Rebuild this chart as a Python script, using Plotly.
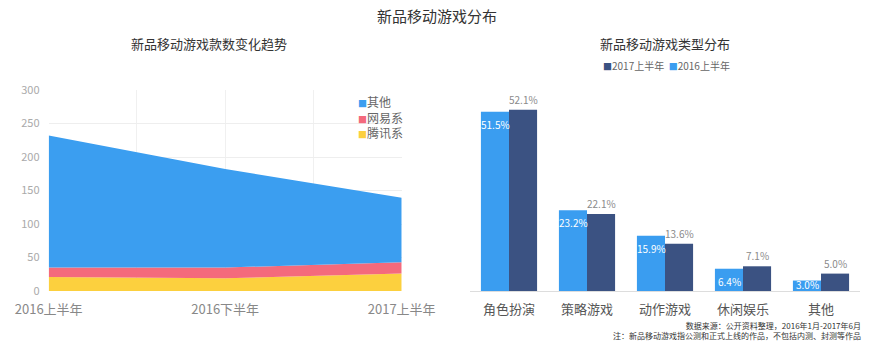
import plotly.graph_objects as go

FONT = "Noto Sans CJK SC"

# ---- left chart data ----
periods = ["2016上半年", "2016下半年", "2017上半年"]
tencent = [21, 19, 26]
netease = [14, 16, 17]
others = [197, 147, 96]
area_names = ["腾讯系", "网易系", "其他"]
area_colors = ["#fcd03e", "#f46a7c", "#3b9ef0"]

# ---- right chart data ----
types = ["角色扮演", "策略游戏", "动作游戏", "休闲娱乐", "其他"]
share_2016 = [51.5, 23.2, 15.9, 6.4, 3.0]
share_2017 = [52.1, 22.1, 13.6, 7.1, 5.0]
bar_colors = {"2016上半年": "#3a9df0", "2017上半年": "#3b5282"}

footnotes = ["数据来源：公开资料整理，2016年1月-2017年6月",
             "注：新品移动游戏指公测和正式上线的作品，不包括内测、封测等作品"]

W, H = 870, 348
fig = go.Figure()

xs = list(range(len(periods)))
for name, vals, col in zip(area_names, [tencent, netease, others], area_colors):
    fig.add_trace(go.Scatter(
        x=xs, y=vals, name=name, stackgroup="a", mode="lines",
        line=dict(width=0, color=col), fillcolor=col, showlegend=False,
        xaxis="x", yaxis="y"))

fig.add_trace(go.Bar(x=types, y=share_2016, name="2016上半年",
                     marker=dict(color=bar_colors["2016上半年"], line=dict(width=0)),
                     xaxis="x2", yaxis="y2", showlegend=False))
fig.add_trace(go.Bar(x=types, y=share_2017, name="2017上半年",
                     marker=dict(color=bar_colors["2017上半年"], line=dict(width=0)),
                     xaxis="x2", yaxis="y2", showlegend=False))

y_top_px, y_bot_px = 90, 291
PXU = 3.48
ydom = [(H - y_bot_px) / H, (H - y_top_px) / H]
y2max = (y_bot_px - y_top_px) / PXU

tickvals = [0, 0.5, 1, 1.5, 2]
ticktext = [periods[0], "", periods[1], "", periods[2]]

annotations = []
LBL = 10
# bar labels
for c, v in zip(types, share_2016):
    if v * PXU < 20:
        annotations.append(dict(x=c, y=0, xref="x2", yref="y2", xshift=-14,
                                yanchor="bottom", yshift=-3, showarrow=False,
                                text=f"{v:.1f}%", font=dict(size=LBL, color="white", family=FONT)))
    else:
        annotations.append(dict(x=c, y=v, xref="x2", yref="y2", xshift=-14,
                                yanchor="top", yshift=-3, showarrow=False,
                                text=f"{v:.1f}%", font=dict(size=LBL, color="white", family=FONT)))
for c, v in zip(types, share_2017):
    annotations.append(dict(x=c, y=v, xref="x2", yref="y2", xshift=14,
                            yanchor="bottom", yshift=1, showarrow=False,
                            text=f"{v:.1f}%", font=dict(size=LBL, color="#8a8a8a", family=FONT)))

def pa(x, y, text, size, color="#333", xanchor="center", align="center"):
    annotations.append(dict(x=x / W, y=1 - y / H, xref="paper", yref="paper",
                            xanchor=xanchor, yanchor="middle", showarrow=False, align=align,
                            text=text, font=dict(size=size, color=color, family=FONT)))

def sq(col, size):
    return f'<span style="color:{col};font-size:{size}px">■</span>'

pa(437, 15, "新品移动游戏分布", 15, "#333")
pa(209, 43, "新品移动游戏款数变化趋势", 13, "#333")
pa(665, 43, "新品移动游戏类型分布", 13, "#333")

# left legend
leg_lines = [f'{sq(col, 9)}{name}' for name, col in zip(reversed(area_names), reversed(area_colors))]
pa(356, 116.5, "<br>".join(leg_lines), 12, "#666", "left", "left")

# right legend
pa(666, 65, f'{sq(bar_colors["2017上半年"], 9)}2017上半年  {sq(bar_colors["2016上半年"], 9)}2016上半年',
   10, "#666")

# footnotes
pa(863, 330.5, "<br>".join(footnotes), 8, "#333", "right", "right")

fig.update_layout(
    width=W, height=H, margin=dict(l=0, r=0, t=0, b=0, autoexpand=False),
    paper_bgcolor="white", plot_bgcolor="white",
    font=dict(family=FONT, color="#555"),
    barmode="group", bargap=0.28, bargroupgap=0,
    xaxis=dict(domain=[48.7 / W, 401.7 / W], range=[0, 2], tickvals=tickvals, ticktext=ticktext,
               showgrid=True, gridcolor="#f0f0f0", gridwidth=1, zeroline=False, automargin=False,
               ticks="outside", ticklen=6, tickcolor="rgba(0,0,0,0)",
               tickfont=dict(size=13, color="#888", family=FONT), anchor="y"),
    yaxis=dict(domain=ydom, range=[0, 300], dtick=50, showgrid=True, gridcolor="#eeeeee",
               zeroline=False, automargin=False, tickfont=dict(size=11, color="#aaa", family=FONT),
               ticks="outside", ticklen=6, tickcolor="rgba(0,0,0,0)", anchor="x"),
    xaxis2=dict(domain=[470 / W, 860 / W], showline=True, linecolor="#dddddd", linewidth=1,
                automargin=False, ticks="outside", ticklen=6, tickcolor="rgba(0,0,0,0)",
                tickfont=dict(size=13, color="#555", family=FONT), anchor="y2", showgrid=False),
    yaxis2=dict(domain=ydom, range=[0, y2max], visible=False, showgrid=False, zeroline=False,
                automargin=False, anchor="x2"),
    annotations=annotations,
)

fig.write_html("out.html", post_script="document.body.style.margin='0';document.body.style.overflow='hidden';")
